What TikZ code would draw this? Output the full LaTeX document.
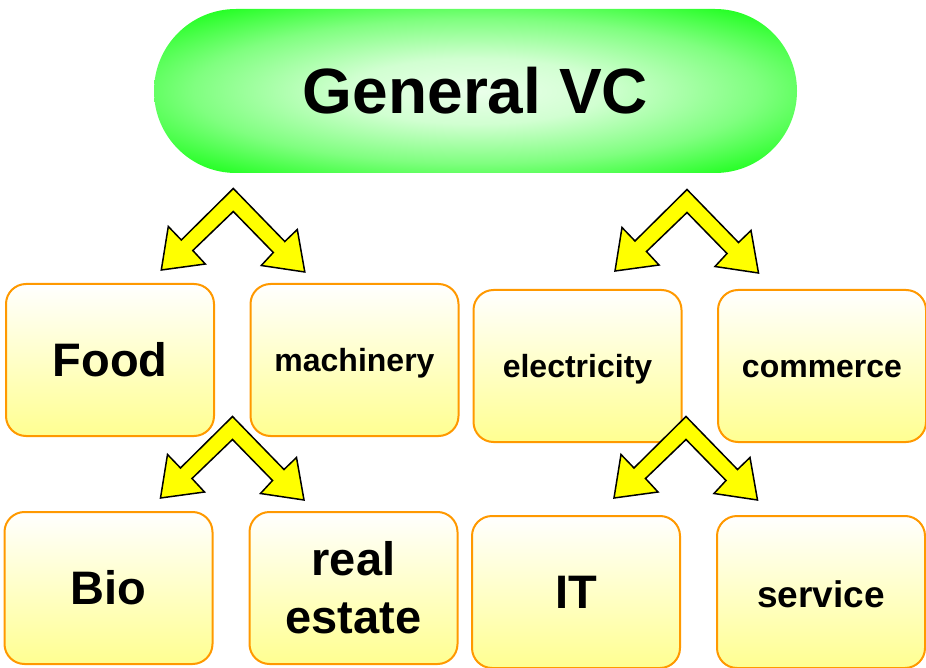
\documentclass[tikz,border=0pt]{standalone}
\usepackage{fontspec}
\setmainfont{Liberation Sans}
\usetikzlibrary{calc}

\definecolor{boxline}{RGB}{255,153,0}
\definecolor{boxfoot}{RGB}{255,255,145}
\definecolor{arrowfill}{RGB}{255,255,0}

% glow for the top pill: pale centre, bright green rim
\pgfdeclareradialshading{pillglow}{\pgfpoint{0bp}{0bp}}{%
  color(0bp)=(green!8); color(10bp)=(green!18); color(22bp)=(green!50);
  color(33bp)=(green!90); color(38bp)=(green); color(50bp)=(green)}

\tikzset{%
  % Specifications for style of nodes:
         vcpill/.style = {rectangle, rounded corners=82pt, shading=pillglow,
                          minimum width=643pt, minimum height=164pt,
                          font=\bfseries\fontsize{64}{70}\selectfont},
         sector/.style = {rectangle, rounded corners=20pt, draw=boxline,
                          line width=2pt, top color=white, bottom color=boxfoot,
                          minimum width=208pt, minimum height=152pt,
                          align=center, font=\bfseries\fontsize{47}{58}\selectfont},
     smallsector/.style = {sector, text height=23pt, text depth=0pt,
                          font=\bfseries\fontsize{32}{38}\selectfont},
       arrowline/.style = {draw=black, line width=1.5pt, fill=arrowfill,
                          line join=miter},
  % two-headed block arrow, apex at the origin
      splitarrow/.pic = {
        \path[arrowline] (0,0) -- (-52,51.5) -- (-65,38) -- (-72,81.5)
          -- (-28,75.5) -- (-40.5,62) -- (0,23) -- (40,64) -- (28,77)
          -- (71.5,83.5) -- (64,41) -- (51.5,53) -- cycle;
      },
}

\begin{document}
\begin{tikzpicture}[x=1pt, y=-1pt]

  \useasboundingbox (0,0) rectangle (926,668);

  \node (general)  [vcpill]                      at (475.5,91)  {General VC};

  \node (food)     [sector]                      at (110,360)   {Food};
  \node (mach)     [smallsector]                 at (354.5,360) {machinery};
  \node (elec)     [smallsector]                 at (577.5,366) {electricity};
  \node (comm)     [smallsector]                 at (822,366)   {commerce};

  \node (bio)      [sector]                      at (108.5,588) {Bio};
  \node (realest)  [sector]                      at (353.5,588) {real\\estate};
  \node (it)       [sector]                      at (576,592)   {IT};
  \node (serv)     [smallsector, text height=30pt,
                    font=\bfseries\fontsize{37}{44}\selectfont]
                                                 at (821,592)   {service};

  \pic at (233.3,188.5) {splitarrow};
  \pic at (687,189.5)   {splitarrow};
  \pic at (232.5,416.5) {splitarrow};
  \pic at (686,416.5)   {splitarrow};

\end{tikzpicture}
\end{document}
